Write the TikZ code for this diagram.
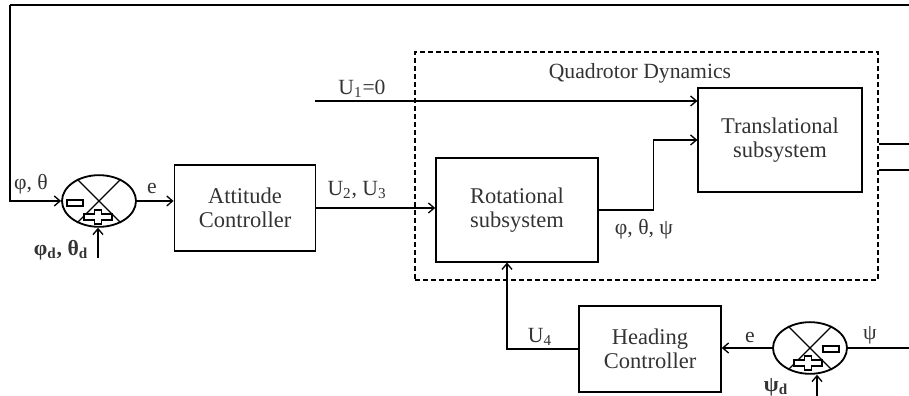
\documentclass[tikz,border=0pt]{standalone}
\usepackage{fontspec}
\setmainfont{Liberation Serif}
\usetikzlibrary{arrows.meta, positioning, shapes.geometric}

\tikzset{
  block/.style={draw, line width=1.1pt, inner sep=2pt, align=center,
    font=\fontsize{13.5}{14.5}\selectfont, text=black!80},
  dynbox/.style={draw, line width=1.1pt, dash pattern=on 3pt off 1.8pt},
  sumnode/.style={draw, ellipse, line width=1.1pt, minimum width=44.4pt,
    minimum height=31pt, inner sep=0pt},
  sig/.style={line width=0.8pt, -{Straight Barb[length=3.5pt, width=6pt]}},
  wire/.style={line width=0.8pt},
  lbl/.style={font=\fontsize{13}{14}\selectfont, text=black!80, inner sep=1pt},
  minussign/.pic={\draw[line width=1.1pt, fill=white] (-8,-3) rectangle (8,3);},
  plussign/.pic={\draw[line width=1.1pt, fill=white]
    (-14,-3) -- (-3.5,-3) -- (-3.5,-7) -- (3.5,-7) -- (3.5,-3) -- (14,-3)
    -- (14,3) -- (3.5,3) -- (3.5,7) -- (-3.5,7) -- (-3.5,3) -- (-14,3) -- cycle;}
}

\begin{document}
\begin{tikzpicture}[x=0.6pt, y=-0.6pt]
  \useasboundingbox (0,0) rectangle (909,396);

  % quadrotor dynamics frame
  \node[dynbox, minimum width=277.8pt, minimum height=136.8pt] (dyn) at (646.5,166) {};
  \node[lbl] (dynlbl) at (640,73) {Quadrotor Dynamics};

  % blocks
  \node[block, minimum width=84.6pt, minimum height=52pt] (att) at (245,208) {Attitude\\Controller};
  \node[block, minimum width=97pt, minimum height=62pt] (rot) at (517,210) {Rotational\\subsystem};
  \node[block, minimum width=98pt, minimum height=62pt] (trans) at (780,140) {Translational\\subsystem};
  \node[block, minimum width=85pt, minimum height=52pt] (head) at (650,349) {Heading\\Controller};

  % summing junctions
  \node[sumnode] (sumA) at (99,201) {};
  \draw[wire] (sumA.135) -- (sumA.315) (sumA.45) -- (sumA.225);
  \pic at (75,203) {minussign};
  \pic at (98,217) {plussign};

  \node[sumnode] (sumB) at (810,348) {};
  \draw[wire] (sumB.135) -- (sumB.315) (sumB.45) -- (sumB.225);
  \pic at (831,349) {minussign};
  \pic at (808,363) {plussign};

  % attitude loop
  \coordinate (fbtop) at (909,5);
  \coordinate (fbleft) at (10,5);
  \draw[wire, line width=1pt] (fbtop) -- (fbleft);
  \draw[sig] (fbleft) |- (sumA.west);
  \coordinate (phid) at (98,258);
  \draw[sig] (phid) -- (phid |- sumA.south);
  \draw[sig] (sumA.east) -- (sumA.east -| att.west);
  \draw[sig] (att.east) -- (att.east -| rot.west);
  \coordinate (uone) at (315,101);
  \draw[sig] (uone) -- (uone -| trans.west);
  \draw[sig] (rot.east) -- ++(55,0) |- (trans.west);

  % outputs of the translational subsystem
  \coordinate (outA) at (909,144);
  \coordinate (outB) at (909,170);
  \draw[wire] (outA -| dyn.east) -- (outA);
  \draw[wire] (outB -| dyn.east) -- (outB);

  % heading loop
  \coordinate (psiin) at (909,348);
  \draw[wire] (psiin) -- (sumB.east);
  \coordinate (psid) at (817,396);
  \draw[sig] (psid) -- (psid |- sumB.south);
  \draw[sig] (sumB.west) -- (sumB.west -| head.east);
  \draw[sig] (head.west) -| ([xshift=-6pt]rot.south);

  % signal labels
  \node[lbl] (lphth) at (31,184) {φ, θ};
  \node[lbl] (lphthd) at (61,250) {\textbf{φ\textsubscript{d}, θ\textsubscript{d}}};
  \node[lbl] (leA) at (152,189) {e};
  \node[lbl] (luB) at (357,190) {U\textsubscript{2}, U\textsubscript{3}};
  \node[lbl] (luA) at (362,89) {U\textsubscript{1}=0};
  \node[lbl] (lang) at (644,229) {φ, θ, ψ};
  \node[lbl] (luC) at (540,337) {U\textsubscript{4}};
  \node[lbl] (leB) at (750,338) {e};
  \node[lbl] (lpsi) at (870,335) {ψ};
  \node[lbl] (lpsid) at (776,387) {\textbf{ψ\textsubscript{d}}};
\end{tikzpicture}
\end{document}
